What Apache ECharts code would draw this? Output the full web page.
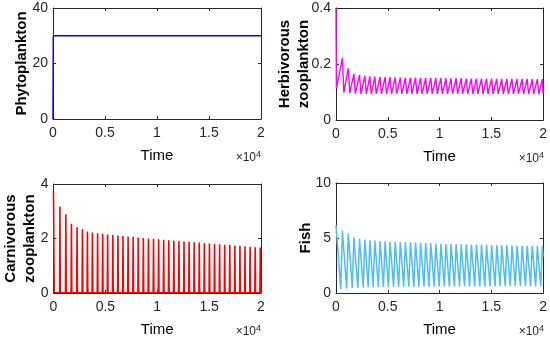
<!DOCTYPE html>
<html>
<head>
<meta charset="utf-8">
<script src="https://cdn.jsdelivr.net/npm/echarts@6/dist/echarts.min.js"></script>
<style>
html,body{margin:0;padding:0;background:#fff;}
#c{width:550px;height:343px;}
</style>
</head>
<body>
<div id="c"></div>
<script>
// ---- data (time in units) ----
const xTicks = [0, 5000, 10000, 15000, 20000];
const xTickLabels = ['0', '0.5', '1', '1.5', '2'];

// times of the periodic bursts (shared by all oscillating species)
const spikeTimes = [0, 620, 1190, 1730, 2270, 2790, 3270, 3750, 4250, 4740, 5220, 5720, 6210, 6700, 7190,
  7680, 8170, 8660, 9150, 9640, 10130, 10620, 11110, 11600, 12090, 12580, 13070, 13560, 14050, 14540,
  15030, 15520, 16010, 16500, 16990, 17480, 17970, 18460, 18950, 19440, 19930];

// Phytoplankton
const phytoTimes = [0, 30, 20000];
const phytoValues = [0, 30, 30];

// Herbivorous zooplankton
const herbStart = [[0, 0.4], [40, 0.113]];
const herbPeaks = [0.222, 0.185, 0.165, 0.161, 0.158, 0.156, 0.155, 0.154, 0.153, 0.153,
  0.152, 0.152, 0.151, 0.151, 0.151, 0.150, 0.150, 0.150, 0.150, 0.149,
  0.149, 0.149, 0.149, 0.149, 0.148, 0.148, 0.148, 0.148, 0.148, 0.148,
  0.147, 0.147, 0.147, 0.147, 0.147, 0.147, 0.147, 0.146, 0.146, 0.146];
const herbTroughs = [0.098, 0.096, 0.094, 0.093, 0.093, 0.093, 0.093, 0.093, 0.093, 0.093,
  0.093, 0.093, 0.093, 0.093, 0.093, 0.093, 0.093, 0.093, 0.093, 0.093,
  0.093, 0.093, 0.093, 0.093, 0.093, 0.093, 0.093, 0.093, 0.093, 0.093,
  0.093, 0.093, 0.093, 0.093, 0.093, 0.093, 0.093, 0.093, 0.093, 0.094];

// Carnivorous zooplankton
const carnPeaks = [3.72, 3.17, 2.89, 2.54, 2.42, 2.34, 2.26, 2.22, 2.19, 2.17, 2.15, 2.13, 2.11, 2.09, 2.07,
  2.06, 2.04, 2.02, 2.00, 1.99, 1.97, 1.95, 1.94, 1.92, 1.91, 1.89, 1.88, 1.86, 1.85, 1.83,
  1.82, 1.80, 1.79, 1.77, 1.76, 1.74, 1.73, 1.71, 1.70, 1.68, 1.67];
const carnBase = 0.01;

// Fish
const fishPeaks = [6.18, 5.66, 5.43, 5.06, 4.94, 4.85, 4.80, 4.76, 4.73, 4.70, 4.68, 4.66, 4.64, 4.62, 4.60,
  4.58, 4.56, 4.54, 4.52, 4.50, 4.48, 4.46, 4.45, 4.44, 4.43, 4.42, 4.41, 4.40, 4.39, 4.38,
  4.36, 4.35, 4.34, 4.33, 4.32, 4.31, 4.30, 4.29, 4.28, 4.26, 4.25];
const fishTroughs = [0.35, 0.40, 0.45, 0.48, 0.50, 0.52, 0.53, 0.54, 0.55, 0.55, 0.56, 0.56, 0.57, 0.57, 0.57,
  0.58, 0.58, 0.58, 0.58, 0.59, 0.59, 0.59, 0.59, 0.59, 0.60, 0.60, 0.60, 0.60, 0.60, 0.60,
  0.60, 0.61, 0.61, 0.61, 0.61, 0.61, 0.61, 0.61, 0.62, 0.62];

// ---- build series tables ----
const HERB_DROP = 140;   // duration of the sharp fall after each herbivore peak
const CARN_W = 70;       // width of each carnivore burst
const FISH_RISE = 160;   // duration of the rise to each fish peak

const phytoData = phytoTimes.map((t, i) => [t, phytoValues[i]]);

const herbData = herbStart.slice();
herbPeaks.forEach((p, i) => {
  const t = spikeTimes[i + 1];
  herbData.push([t, p]);
  herbData.push([Math.min(t + HERB_DROP, 20000), herbTroughs[i]]);
});

const carnData = [[0, carnPeaks[0]], [CARN_W, carnBase]];
for (let i = 1; i < spikeTimes.length; i++) {
  const t = spikeTimes[i];
  carnData.push([t - CARN_W / 2, carnBase]);
  carnData.push([t, carnPeaks[i]]);
  carnData.push([Math.min(t + CARN_W / 2, 20000), carnBase]);
}
carnData.push([20000, carnBase]);

const fishData = [[0, fishPeaks[0]]];
for (let i = 1; i < spikeTimes.length; i++) {
  const t = spikeTimes[i];
  fishData.push([t - FISH_RISE, fishTroughs[i - 1]]);
  fishData.push([t, fishPeaks[i]]);
}
fishData.push([20000, 3.3]);

// ---- chart ----
const FONT = 'Liberation Sans, Arial, sans-serif';
const AX = '#262626';
const grids = [
  {left: 53, top: 8, width: 208, height: 111},
  {left: 336, top: 8, width: 208, height: 112},
  {left: 53, top: 184, width: 208, height: 109},
  {left: 336, top: 183, width: 208, height: 110}
];
const yCfg = [
  {min: 0, max: 40, interval: 20, name: 'Phytoplankton', gap: 21.5, fmt: v => String(v)},
  {min: 0, max: 0.4, interval: 0.2, name: 'Herbivorous\nzooplankton', gap: 23, fmt: v => (v === 0 ? '0' : v.toFixed(1))},
  {min: 0, max: 4, interval: 2, name: 'Carnivorous\nzooplankton', gap: 14.5, fmt: v => String(v)},
  {min: 0, max: 10, interval: 5, name: 'Fish', gap: 20.5, fmt: v => String(v)}
];
const colors = ['#0000ff', '#ff00ff', '#ff0000', '#4dbeee'];
const widths = [1.5, 1.4, 1.6, 1.5];
const datas = [phytoData, herbData, carnData, fishData];

const xAxis = [], yAxis = [], series = [], graphic = [];
grids.forEach((g, i) => {
  const common = {
    gridIndex: i,
    axisLine: {show: true, onZero: false, lineStyle: {color: AX, width: 1}},
    axisTick: {show: true, inside: true, length: 3, lineStyle: {color: AX}},
    splitLine: {show: false}
  };
  xAxis.push(Object.assign({}, common, {
    type: 'value', position: 'bottom', min: 0, max: 20000, interval: 5000,
    name: 'Time', nameLocation: 'middle', nameGap: 29, nameMoveOverlap: false,
    nameTextStyle: {fontFamily: FONT, fontSize: 15, color: '#000'},
    axisLabel: {show: true, margin: 7, fontFamily: FONT, fontSize: 14, color: AX,
      formatter: v => xTickLabels[xTicks.indexOf(v)]}
  }));
  xAxis.push(Object.assign({}, common, {
    type: 'value', position: 'top', min: 0, max: 20000, interval: 5000,
    axisLabel: {show: false}
  }));
  const c = yCfg[i];
  yAxis.push(Object.assign({}, common, {
    type: 'value', position: 'left', min: c.min, max: c.max, interval: c.interval,
    name: c.name, nameLocation: 'middle', nameGap: c.gap, nameRotate: 90, nameMoveOverlap: false,
    nameTextStyle: {fontFamily: FONT, fontSize: 15, fontWeight: 'bold', color: '#000', lineHeight: 19},
    axisLabel: {show: true, margin: 5, fontFamily: FONT, fontSize: 14, color: AX, formatter: c.fmt}
  }));
  yAxis.push(Object.assign({}, common, {
    type: 'value', position: 'right', min: c.min, max: c.max, interval: c.interval,
    axisLabel: {show: false}
  }));
  series.push({
    type: 'line', xAxisIndex: i * 2, yAxisIndex: i * 2, data: datas[i],
    showSymbol: false, symbol: 'none', animation: false, clip: true,
    lineStyle: {color: colors[i], width: widths[i]}
  });
  graphic.push({
    type: 'text', right: 550 - (g.left + g.width), top: g.top + g.height + 31,
    style: {
      text: '×10{s|4}', fill: AX, font: '12px ' + FONT,
      rich: {s: {fontSize: 9, verticalAlign: 'top', padding: [0, 0, 6, 0], fill: AX, fontFamily: FONT}}
    }
  });
});

const chart = echarts.init(document.getElementById('c'), null, {renderer: 'canvas'});
chart.setOption({
  animation: false,
  grid: grids.map(g => Object.assign({containLabel: false}, g)),
  xAxis, yAxis, series, graphic
});
</script>
</body>
</html>
